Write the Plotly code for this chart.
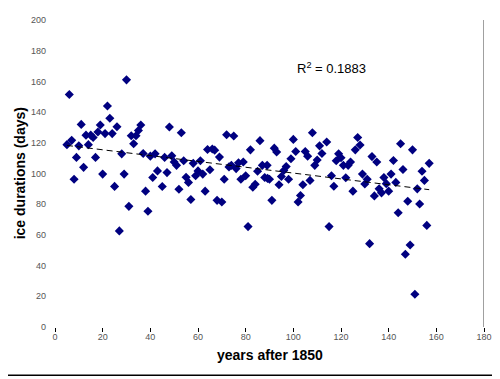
import numpy as np
import plotly.graph_objects as go

# years after 1850
years = [5, 6, 7, 8, 9, 10, 11, 12, 13, 14, 15, 16, 17, 18, 19, 20,
         21, 22, 23, 24, 25, 26, 27, 28, 29, 30, 31, 32, 33, 34, 35, 36, 37, 38, 39, 40,
         41, 42, 43, 45, 46, 47, 48, 49, 50, 51, 52, 53, 54, 55, 56, 57, 58, 59, 60,
         61, 62, 63, 64, 65, 66, 67, 68, 69, 70, 71, 72, 73, 74, 75, 76, 77, 78, 79, 80,
         81, 82, 83, 84, 85, 86, 87, 88, 89, 89.2, 90, 91, 92, 93, 94, 95, 96, 97, 98, 99, 100,
         101, 102, 103, 104, 105, 106, 107, 108, 109, 110, 111, 112, 114, 115, 116, 117, 118, 119, 120,
         121, 122, 123, 124, 125, 126, 127, 128, 129, 130, 131, 132, 133, 134, 135, 136, 137, 138, 139, 140,
         141, 142, 143, 144, 145, 146, 147, 148, 149, 150, 151, 152, 153, 154, 155, 156, 157]
# ice duration (days)
durations = [118.8, 151.5, 121.6, 96.3, 110.5, 118, 132, 104, 125, 118.8, 125, 123.5, 110.5, 127, 131.6, 99.6,
             126, 144, 136, 126, 91.6, 130.5, 62.6, 112.8, 99.6, 161, 78.6, 124.6, 119.4, 124.6, 128, 131.6, 113, 88.5, 75.4, 111.3,
             97.4, 112.8, 101.7, 91.5, 110.5, 100.6, 130.3, 111.5, 107.5, 105.3, 89.7, 126.5, 108.3, 97.6, 94.2, 83.1, 106.6, 98.5, 101.7,
             108.3, 99.6, 88.5, 115.6, 102.4, 116, 115.2, 82.5, 110.7, 81.4, 96.3, 125.2, 104.3, 105.3, 124.4, 103.2, 107, 96.3, 107.5, 98.5,
             65.4, 115.4, 91, 93, 101.5, 121.4, 105.3, 97.4, 105.3, 96.8, 96.3, 82.5, 116.5, 114, 92.7, 98, 102, 104.5, 96.3, 109.6, 122.2,
             114.3, 81.4, 85.7, 92.7, 114.3, 111.3, 95.5, 126.5, 105.3, 108.8, 118, 113, 120.5, 65.4, 98.5, 91.7, 108.3, 112.8, 110.3,
             105.3, 97.2, 105.3, 107.5, 88.5, 115.4, 123.5, 118.6, 99.6, 93.2, 96.3, 54.3, 111, 85.4, 107.5, 90, 87.4, 97.4, 93.4, 88.5,
             99.6, 108.5, 94.2, 74.4, 119.4, 102.6, 47.4, 81.9, 53.4, 115.4, 21.3, 90, 80.1, 101.5, 95.5, 66.2, 106.6]

x_ticks = [0, 20, 40, 60, 80, 100, 120, 140, 160, 180]
y_ticks = [0, 20, 40, 60, 80, 100, 120, 140, 160, 180, 200]
r2_label = "R<sup>2</sup> = 0.1883"

xs = np.array(years, dtype=float)
ys = np.array(durations, dtype=float)
slope, intercept = np.polyfit(xs, ys, 1)
tx = np.array([xs.min(), xs.max()])
ty = slope * tx + intercept

fig = go.Figure()
fig.add_trace(go.Scatter(x=years, y=durations, mode="markers",
                         marker=dict(symbol="diamond", size=7, color="#000080"),
                         showlegend=False, hoverinfo="x+y"))
fig.add_trace(go.Scatter(x=tx, y=ty, mode="lines",
                         line=dict(color="black", width=1, dash="6px,4px"),
                         showlegend=False, hoverinfo="skip"))

fig.update_layout(
    width=492, height=371,
    margin=dict(l=47, r=16, t=7, b=52),
    paper_bgcolor="white", plot_bgcolor="white",
    font=dict(family="Liberation Sans, Arial, sans-serif", color="black"),
    xaxis=dict(range=[0, 180], tickvals=x_ticks, showgrid=False, zeroline=False,
               showline=False, ticks="outside", ticklen=4, tickcolor="black",
               ticklabelstandoff=-3,
               tickfont=dict(size=9, color="#555555")),
    yaxis=dict(range=[0, 200], tickvals=y_ticks, showgrid=False, zeroline=False,
               showline=False, ticks="", ticklabelstandoff=8,
               tickfont=dict(size=9, color="#555555")),
    shapes=[
        dict(type="line", xref="x", yref="paper", x0=180, x1=180, y0=0, y1=1,
             line=dict(color="#808080", width=1.5)),
        dict(type="line", xref="paper", yref="paper", x0=-0.11, x1=1.04, y0=-0.157, y1=-0.157,
             line=dict(color="black", width=1.5)),
    ],
    annotations=[
        dict(text=r2_label, xref="x", yref="paper", x=116, y=0.843, showarrow=False,
             font=dict(size=13, color="black"), xanchor="center", yanchor="middle"),
        dict(text="<b>years after 1850</b>", xref="paper", yref="paper", x=0.5, y=-0.09,
             showarrow=False, font=dict(size=14, color="black"), xanchor="center", yanchor="middle"),
        dict(text="<b>ice durations (days)</b>", xref="paper", yref="paper", x=-0.082, y=0.5,
             showarrow=False, textangle=-90, font=dict(size=14, color="black"),
             xanchor="center", yanchor="middle"),
    ],
)

fig.write_html("out.html")
